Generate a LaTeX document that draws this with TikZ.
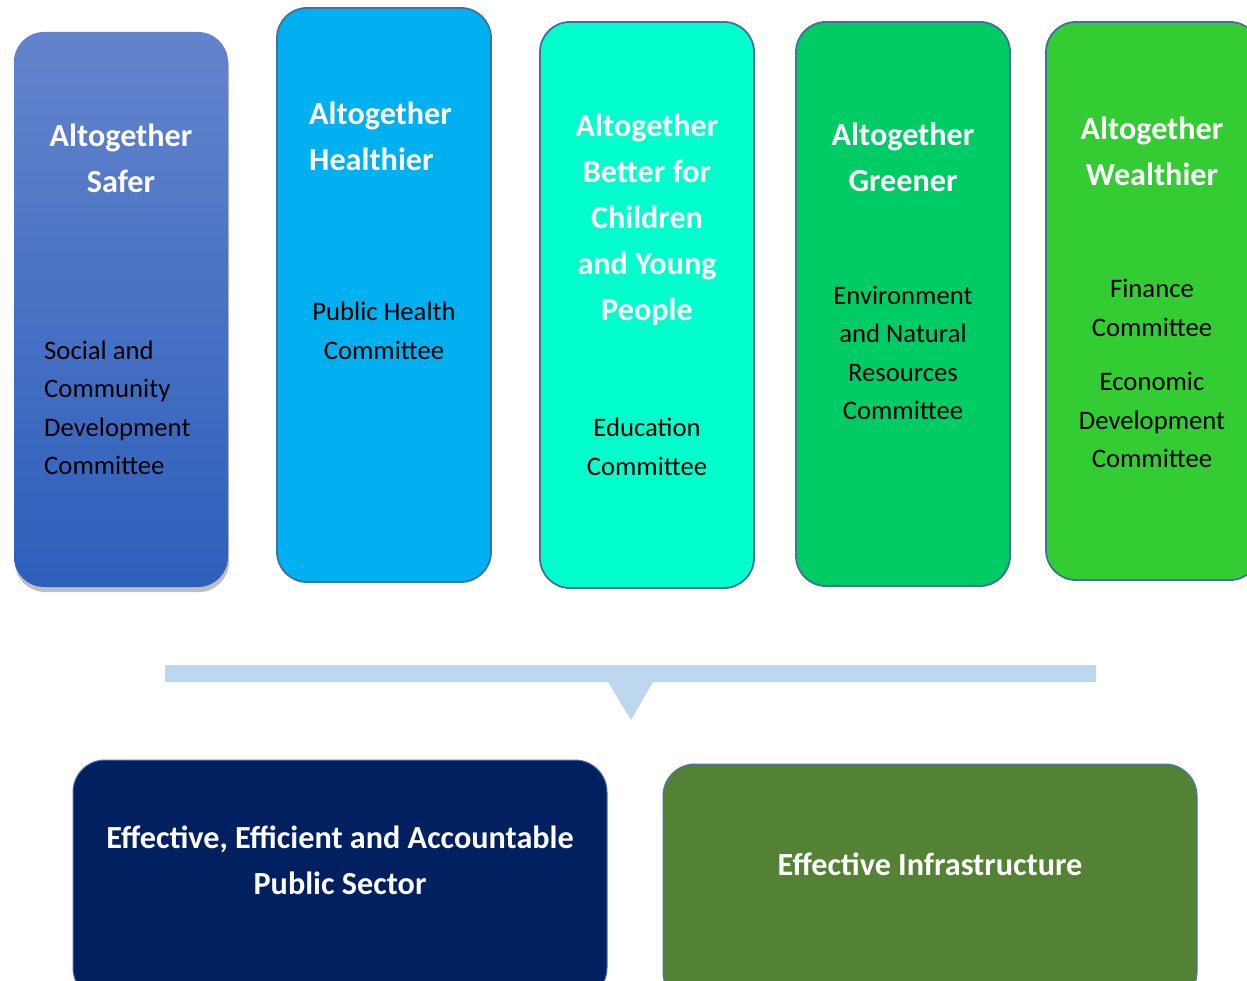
\documentclass[tikz,border=0pt]{standalone}
\usepackage{fontspec}
\setmainfont{Carlito}
\usetikzlibrary{shadows}
\definecolor{cSafeTop}{HTML}{6384CC}
\definecolor{cSafeBot}{HTML}{2D5FBB}
\definecolor{cHealth}{HTML}{00B0F0}
\definecolor{cChild}{HTML}{00FFCC}
\definecolor{cGreen}{HTML}{00CC66}
\definecolor{cWealth}{HTML}{33CC33}
\definecolor{cBorder}{HTML}{41719C}
\definecolor{cBand}{HTML}{BDD7EE}
\definecolor{cPub}{HTML}{002060}
\definecolor{cInfra}{HTML}{548235}
\definecolor{cThin}{HTML}{4472C4}
\tikzset{
  colbox/.style={rectangle, rounded corners=30pt, draw=cBorder, line width=1.8pt, minimum width=214pt, inner sep=0pt},
  botbox/.style={rectangle, rounded corners=32pt, draw=cThin, line width=1pt, minimum width=534pt, minimum height=240pt, inner sep=0pt},
  ttl/.style={text=white, font=\fontsize{32.2}{46}\selectfont\bfseries, align=center, inner sep=0pt},
  body/.style={text=black, font=\fontsize{26.7}{38.5}\selectfont, align=center, inner sep=0pt},
}
\begin{document}
\begin{tikzpicture}[x=1pt,y=-1pt]
\useasboundingbox (0,0) rectangle (1247,981);
% column boxes
\node[colbox, draw=none, minimum height=555pt, top color=cSafeTop, bottom color=cSafeBot,
  drop shadow={shadow xshift=1pt, shadow yshift=-5pt, opacity=0.25, fill=black}] (safer) at (121,309.5) {};
\node[colbox, fill=cHealth, minimum height=574pt] (health) at (384,295) {};
\node[colbox, fill=cChild, minimum height=566pt] (child) at (647,305) {};
\node[colbox, fill=cGreen, minimum height=564pt] (green) at (903,304) {};
\node[colbox, fill=cWealth, minimum height=558pt] (wealth) at (1153,301) {};
% titles
\node[ttl] (t1) at (121,158) {Altogether\\Safer};
\node[ttl, align=left, anchor=west] (t2) at (309,136) {Altogether\\Healthier};
\node[ttl] (t3) at (647,220) {Altogether\\Better for\\Children\\and Young\\People};
\node[ttl] (t4) at (903,157) {Altogether\\Greener};
\node[ttl] (t5) at (1152,151) {Altogether\\Wealthier};
% committees
\node[body, align=left, anchor=west] (b1) at (44,408) {Social and\\Community\\Development\\Committee};
\node[body] (b2) at (384,331) {Public Health\\Committee};
\node[body] (b3) at (647,447) {Education\\Committee};
\node[body] (b4) at (903,353) {Environment\\and Natural\\Resources\\Committee};
\node[body] (b5a) at (1152,308) {Finance\\Committee};
\node[body] (b5b) at (1152,420) {Economic\\Development\\Committee};
% band with pointer
\fill[cBand] (165,665) -- (1096,665) -- (1096,682) -- (653,682) -- (631,720) -- (608,682) -- (165,682) -- cycle;
% bottom boxes
\node[botbox, fill=cPub] (pub) at (340,880) {};
\node[botbox, fill=cInfra] (infra) at (930,884) {};
\node[ttl] (pt) at (340,860) {Effective, Efficient and Accountable\\Public Sector};
\node[ttl] (it) at (930,864) {Effective Infrastructure};
\end{tikzpicture}
\end{document}
